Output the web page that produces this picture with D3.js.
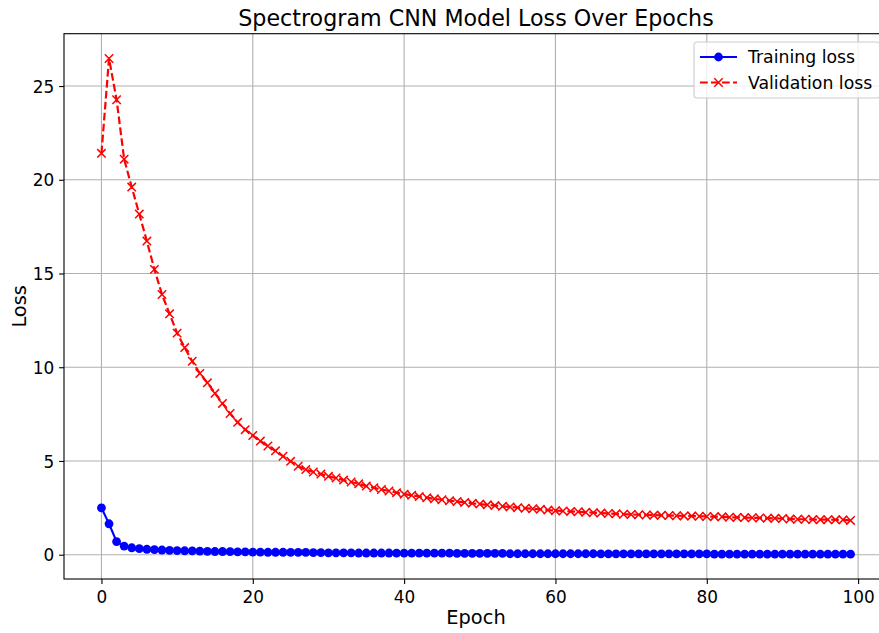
<!DOCTYPE html>
<html>
<head>
<meta charset="utf-8">
<script src="https://cdn.jsdelivr.net/npm/d3@7"></script>
<style>
  html, body { margin: 0; padding: 0; background: #fff; }
  svg { display: block; font-family: "DejaVu Sans", sans-serif; }
</style>
</head>
<body>
<svg id="chart" width="879" height="633"></svg>
<script>
const epochs = d3.range(0, 100);
const trainingLoss = [
  2.50, 1.65, 0.70, 0.46, 0.37, 0.32, 0.29, 0.27, 0.25, 0.23,
  0.22, 0.21, 0.20, 0.19, 0.18, 0.17, 0.17, 0.16, 0.15, 0.15,
  0.14, 0.14, 0.13, 0.13, 0.13, 0.12, 0.12, 0.12, 0.11, 0.11,
  0.10, 0.10, 0.10, 0.10, 0.09, 0.09, 0.09, 0.09, 0.09, 0.08,
  0.08, 0.08, 0.08, 0.08, 0.08, 0.08, 0.08, 0.07, 0.07, 0.07,
  0.07, 0.07, 0.07, 0.07, 0.05, 0.05, 0.05, 0.05, 0.05, 0.05,
  0.05, 0.05, 0.05, 0.05, 0.05, 0.05, 0.04, 0.04, 0.04, 0.04,
  0.04, 0.04, 0.04, 0.04, 0.04, 0.04, 0.04, 0.04, 0.04, 0.04,
  0.04, 0.03, 0.03, 0.03, 0.03, 0.03, 0.03, 0.03, 0.03, 0.03,
  0.03, 0.03, 0.03, 0.03, 0.03, 0.03, 0.03, 0.03, 0.03, 0.026
];
const validationLoss = [
  21.41, 26.47, 24.27, 21.10, 19.61, 18.17, 16.73, 15.22, 13.88, 12.85,
  11.82, 11.05, 10.32, 9.67, 9.17, 8.61, 8.07, 7.53, 7.06, 6.67,
  6.36, 6.06, 5.80, 5.54, 5.25, 4.98, 4.72, 4.54, 4.41, 4.30,
  4.18, 4.09, 3.98, 3.88, 3.78, 3.66, 3.57, 3.48, 3.40, 3.31,
  3.23, 3.17, 3.10, 3.04, 2.98, 2.93, 2.88, 2.84, 2.79, 2.74,
  2.70, 2.66, 2.62, 2.58, 2.55, 2.51, 2.48, 2.45, 2.42, 2.38,
  2.35, 2.33, 2.31, 2.29, 2.26, 2.24, 2.22, 2.20, 2.18, 2.16,
  2.15, 2.13, 2.12, 2.11, 2.10, 2.09, 2.08, 2.07, 2.06, 2.05,
  2.04, 2.03, 2.02, 2.00, 1.99, 1.98, 1.97, 1.96, 1.95, 1.94,
  1.93, 1.90, 1.89, 1.89, 1.88, 1.87, 1.87, 1.86, 1.86, 1.83
];
const xTicks = [0, 20, 40, 60, 80, 100];
const yTicks = [0, 5, 10, 15, 20, 25];
const titleText = "Spectrogram CNN Model Loss Over Epochs";
const xLabelText = "Epoch";
const yLabelText = "Loss";
const seriesNames = ["Training loss", "Validation loss"];

const svg = d3.select("#chart");
const L = 64, R = 888, T = 33.7, B = 579;

// matplotlib-like 5% margins
const allVals = trainingLoss.concat(validationLoss);
const ymin = d3.min(allVals), ymax = d3.max(allVals);
const yr = ymax - ymin;
const xr = 99;
const x = d3.scaleLinear().domain([0 - 0.05 * xr, 99 + 0.05 * xr]).range([L, R]);
const y = d3.scaleLinear().domain([ymin - 0.05 * yr, ymax + 0.05 * yr]).range([B, T]);

const defs = svg.append("defs");
defs.append("clipPath").attr("id", "clip")
  .append("rect").attr("x", L).attr("y", T).attr("width", R - L).attr("height", B - T);

// grid
const grid = svg.append("g");
grid.selectAll("line.gx").data(xTicks).join("line")
  .attr("x1", d => x(d)).attr("x2", d => x(d)).attr("y1", T).attr("y2", B)
  .attr("stroke", "#b0b0b0").attr("stroke-width", 1.1);
grid.selectAll("line.gy").data(yTicks).join("line")
  .attr("x1", L).attr("x2", R).attr("y1", d => y(d)).attr("y2", d => y(d))
  .attr("stroke", "#b0b0b0").attr("stroke-width", 1.1);

const plot = svg.append("g").attr("clip-path", "url(#clip)");

// training
const lineGen = d3.line().x((d, i) => x(epochs[i])).y(d => y(d));
plot.append("path").datum(trainingLoss).attr("d", lineGen)
  .attr("fill", "none").attr("stroke", "#0000ff").attr("stroke-width", 2.1)
  .attr("stroke-linejoin", "round");
plot.selectAll("circle.tr").data(trainingLoss).join("circle")
  .attr("cx", (d, i) => x(epochs[i])).attr("cy", d => y(d)).attr("r", 4.4)
  .attr("fill", "#0000ff");

// validation
plot.append("path").datum(validationLoss).attr("d", lineGen)
  .attr("fill", "none").attr("stroke", "#ff0000").attr("stroke-width", 2.2)
  .attr("stroke-dasharray", "7.7,3.3");
const xs = 4.2;
const xMark = (cx, cy) => `M${cx - xs},${cy - xs}L${cx + xs},${cy + xs}M${cx - xs},${cy + xs}L${cx + xs},${cy - xs}`;
plot.selectAll("path.vm").data(validationLoss).join("path")
  .attr("d", (d, i) => xMark(x(epochs[i]), y(d)))
  .attr("stroke", "#ff0000").attr("stroke-width", 1.5).attr("fill", "none");

// spines
svg.append("rect").attr("x", L).attr("y", T).attr("width", R - L).attr("height", B - T)
  .attr("fill", "none").attr("stroke", "#000").attr("stroke-width", 1.1);

// axes
const xAxis = d3.axisBottom(x).tickValues(xTicks).tickSize(4.9).tickPadding(3.5).tickFormat(d3.format("d"));
const gx = svg.append("g").attr("transform", `translate(0,${B})`).call(xAxis);
const yAxis = d3.axisLeft(y).tickValues(yTicks).tickSize(4.9).tickPadding(4.9).tickFormat(d3.format("d"));
const gy = svg.append("g").attr("transform", `translate(${L},0)`).call(yAxis);
[gx, gy].forEach(g => {
  g.select(".domain").remove();
  g.selectAll(".tick line").attr("stroke", "#000").attr("stroke-width", 1.1);
  g.selectAll(".tick text").attr("fill", "#000").attr("font-size", "16.9px")
    .attr("font-family", "DejaVu Sans");
});
gx.selectAll(".tick text").attr("dy", "0.95em");
gy.selectAll(".tick text").attr("dy", "0.36em");

// title and labels
svg.append("text").attr("x", (L + R) / 2).attr("y", 26).attr("text-anchor", "middle")
  .attr("font-size", "22.2px").attr("fill", "#000").text(titleText);
svg.append("text").attr("x", (L + R) / 2).attr("y", 624).attr("text-anchor", "middle")
  .attr("font-size", "19.4px").attr("fill", "#000").text(xLabelText);
svg.append("text").attr("transform", `translate(26,${(T + B) / 2}) rotate(-90)`)
  .attr("text-anchor", "middle").attr("font-size", "19.4px").attr("fill", "#000").text(yLabelText);

// legend
const lg = svg.append("g");
lg.append("rect").attr("x", 694).attr("y", 42).attr("width", 186).attr("height", 56)
  .attr("rx", 3.3).attr("fill", "#fff").attr("fill-opacity", 0.8)
  .attr("stroke", "#cccccc").attr("stroke-width", 1.1);
const rows = [
  { name: seriesNames[0], color: "#0000ff", dash: null, marker: "o", cy: 57 },
  { name: seriesNames[1], color: "#ff0000", dash: "7.7,3.3", marker: "x", cy: 82.5 }
];
rows.forEach(r => {
  lg.append("line").attr("x1", 700).attr("x2", 737).attr("y1", r.cy).attr("y2", r.cy)
    .attr("stroke", r.color).attr("stroke-width", 2.1)
    .attr("stroke-dasharray", r.dash);
  if (r.marker === "o") {
    lg.append("circle").attr("cx", 718.5).attr("cy", r.cy).attr("r", 4.4).attr("fill", r.color);
  } else {
    lg.append("path").attr("d", xMark(718.5, r.cy)).attr("stroke", r.color).attr("stroke-width", 1.5);
  }
  lg.append("text").attr("x", 748).attr("y", r.cy).attr("dy", "0.36em")
    .attr("font-size", "17.3px").attr("fill", "#000").text(r.name);
});
</script>
</body>
</html>
